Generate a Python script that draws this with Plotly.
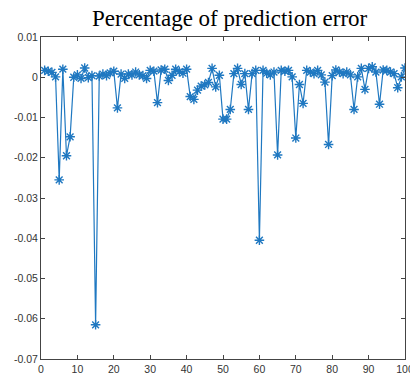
import plotly.graph_objects as go

x_vals = list(range(1, 101))
err_vals = [
    0.0017, 0.0015, 0.0012, 0.0001, -0.0255, 0.0020, -0.0195, -0.0148, 0.0000, 0.0006,
    -0.0003, 0.0023, -0.0001, 0.0004, -0.0615, 0.0003, 0.0008, 0.0004, 0.0011, 0.0015,
    -0.0076, 0.0008, -0.0003, 0.0008, 0.0006, 0.0013, 0.0006, 0.0004, -0.0003, 0.0017,
    0.0015, -0.0063, 0.0018, 0.0020, -0.0008, 0.0005, 0.0020, 0.0014, 0.0010, 0.0020,
    -0.0048, -0.0055, -0.0032, -0.0022, -0.0019, -0.0013, 0.0022, -0.0024, 0.0005, -0.0104,
    -0.0104, -0.0080, 0.0009, 0.0022, -0.0018, 0.0009, -0.0080, 0.0009, 0.0017, -0.0405,
    0.0017, 0.0010, 0.0006, 0.0013, -0.0193, 0.0017, 0.0015, 0.0017, 0.0001, -0.0151,
    -0.0018, -0.0065, 0.0017, 0.0013, 0.0009, 0.0017, 0.0006, -0.0012, -0.0167, 0.0004,
    0.0018, 0.0013, 0.0009, 0.0013, 0.0006, -0.0080, 0.0001, 0.0022, -0.0030, 0.0022,
    0.0026, 0.0013, -0.0067, 0.0018, 0.0017, 0.0013, 0.0009, -0.0026, 0.0001, 0.0023,
]
x_ticks = list(range(0, 101, 10))
y_ticks = [0.01, 0, -0.01, -0.02, -0.03, -0.04, -0.05, -0.06, -0.07]
y_tick_text = ["0.01", "0", "-0.01", "-0.02", "-0.03", "-0.04", "-0.05", "-0.06", "-0.07"]

color = "#1f78c1"

fig = go.Figure(
    go.Scatter(
        x=x_vals, y=err_vals, mode="lines+markers",
        line=dict(color=color, width=1.2),
        marker=dict(symbol="asterisk-open", size=8, color=color,
                    line=dict(color=color, width=1.4)),
    )
)

axis_common = dict(
    showgrid=False, zeroline=False, showline=True, linecolor="#444444", linewidth=1,
    mirror="ticks", ticks="inside", ticklen=4, tickcolor="#444444", automargin=False,
    tickfont=dict(family="Liberation Sans, Arial", size=10.5, color="#333333"),
)

fig.update_layout(
    width=410, height=378,
    margin=dict(l=41, r=5, t=37, b=19),
    paper_bgcolor="white", plot_bgcolor="white",
    showlegend=False,
    title=dict(text="Percentage of prediction error", x=0.56, xanchor="center",
               y=0.953, yanchor="middle",
               font=dict(family="Liberation Serif, Times New Roman", size=23, color="black")),
    xaxis=dict(range=[0, 100], tickvals=x_ticks, ticklabeloverflow="allow", **axis_common),
    yaxis=dict(range=[-0.07, 0.01], tickvals=y_ticks, ticktext=y_tick_text, **axis_common),
)

fig.write_html("out.html")
